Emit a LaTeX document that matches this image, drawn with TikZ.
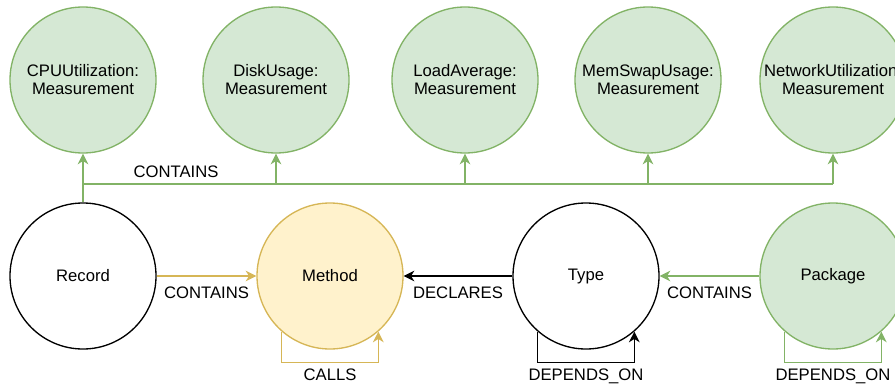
\documentclass[tikz,border=0pt]{standalone}
\usepackage{fontspec}
\setmainfont{Liberation Sans}
\usetikzlibrary{arrows.meta}
\definecolor{gedge}{HTML}{82B366}
\definecolor{gfill}{HTML}{D5E8D4}
\definecolor{yedge}{HTML}{D6B656}
\definecolor{yfill}{HTML}{FFF2CC}
\tikzset{>={Stealth[length=8pt,width=8pt,inset=2.5pt]},
    ent/.style={circle, draw=black, line width=1pt, minimum size=109.5pt, inner sep=0pt, align=center},
    gent/.style={ent, draw=gedge, fill=gfill},
    yent/.style={ent, draw=yedge, fill=yfill},
    gline/.style={draw=gedge, line width=1.1pt},
    yline/.style={draw=yedge, line width=1.1pt},
    bline/.style={draw=black, line width=1.1pt}}

\begin{document}
\begin{tikzpicture}[x=0.75pt, y=-0.75pt, font=\fontsize{12.5}{13.5}\selectfont]
    \useasboundingbox (0,0) rectangle (895,385);
    \node[gent] (C) at (83,80) {CPUUtilization:\\Measurement};
    \node[gent] (D) at (276,80) {DiskUsage:\\Measurement};
    \node[gent] (L) at (465,80) {LoadAverage:\\Measurement};
    \node[gent] (S) at (648,80) {MemSwapUsage:\\Measurement};
    \node[gent] (N) at (833,80) {NetworkUtilization:\\Measurement};
    \node[ent] (R) at (83,276) {Record};
    \node[yent] (M) at (330,276) {Method};
    \node[ent] (T) at (586,276) {Type};
    \node[gent] (P) at (833,276) {Package};
    \coordinate (J) at (83,184);
    \draw[gline, ->] (R.north) -- (C.south);
    \draw[gline] (J) -- node[pos=0.124, above=1pt] {CONTAINS} (N.south |- J);
    \foreach \m in {D,L,S,N}
    \draw[gline, ->] (\m.south |- J) -- (\m.south);
    \draw[yline, ->] (R) -- node[below=4pt] {CONTAINS} (M);
    \draw[bline, ->] (T) -- node[below=4pt] {DECLARES} (M);
    \draw[gline, ->] (P) -- node[below=4pt] {CONTAINS} (T);
    \draw[yline, ->] (M.229) -- ++(0,31) -| node[pos=0.25, below=1pt] {CALLS} (M.311);
    \draw[bline, ->] (T.229) -- ++(0,31) -| node[pos=0.25, below=1pt] {DEPENDS\_ON} (T.311);
    \draw[gline, ->] (P.229) -- ++(0,31) -| node[pos=0.25, below=1pt] {DEPENDS\_ON} (P.311);
\end{tikzpicture}
\end{document}
